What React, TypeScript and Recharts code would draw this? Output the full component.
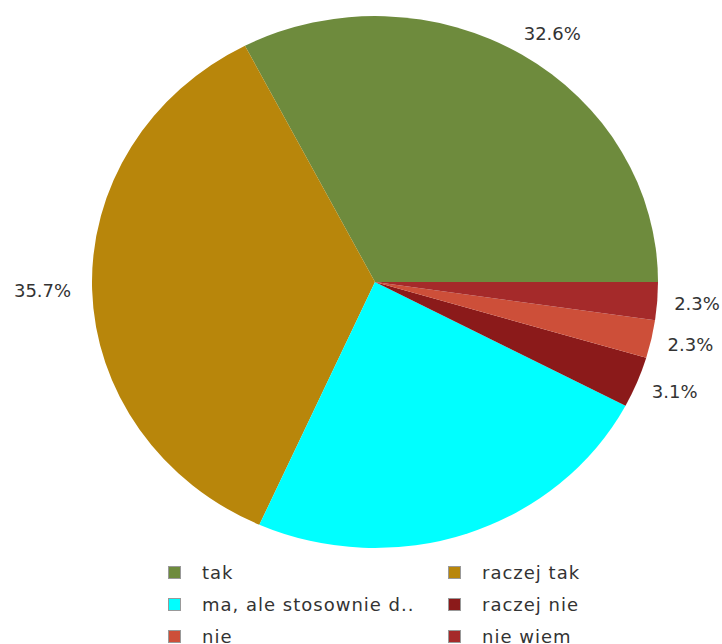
import { PieChart, Pie, Cell, Legend } from 'recharts';

const categories = ['tak', 'raczej tak', 'ma, ale stosownie d..', 'raczej nie', 'nie', 'nie wiem'];
const shares = [32.6, 35.7, 24.0, 3.1, 2.3, 2.3];
const colors = ['#6E8B3D', '#B8860B', '#00FFFF', '#8B1A1A', '#CD4F39', '#A52A2A'];
// the reference prints no percentage on the cyan slice
const showLabel = [true, true, false, true, true, true];

const CX = 375;
const CY = 282;
const RX = 283;
const RY = 266;

const data = categories.map((name, i) => ({ name, value: shares[i] }));

function renderLabel(props: any) {
  const { midAngle, percent, index } = props;
  if (!showLabel[index]) return null;
  const rad = (midAngle * Math.PI) / 180;
  const cos = Math.cos(rad);
  const sin = Math.sin(rad);
  const k = 1.06;
  const px = CX + RX * k * cos;
  const py = CY - RY * k * sin;
  const y = py - sin * 9;
  const x = cos >= 0 ? px - (1 - Math.abs(cos)) * 15 : px - 4;
  return (
    <text
      x={x}
      y={y}
      textAnchor={cos >= 0 ? 'start' : 'end'}
      dominantBaseline="central"
      fill="#333"
      fontSize={18}
      fontFamily="DejaVu Sans"
    >
      {(percent * 100).toFixed(1)}%
    </text>
  );
}

function LegendGrid() {
  const items = categories.map((name, i) => ({ name, color: colors[i] }));
  return (
    <div
      style={{
        display: 'grid',
        gridTemplateColumns: '280px 200px',
        gridAutoRows: '32px',
        paddingLeft: 168,
        fontFamily: 'DejaVu Sans',
        fontSize: 18,
        letterSpacing: 1,
        color: '#333',
      }}
    >
      {items.map((it) => (
        <div key={it.name} style={{ display: 'flex', alignItems: 'center' }}>
          <span
            style={{
              width: 11,
              height: 11,
              background: it.color,
              border: '1px solid #999',
              marginRight: 21,
              flex: 'none',
            }}
          />
          <span style={{ whiteSpace: 'nowrap' }}>{it.name}</span>
        </div>
      ))}
    </div>
  );
}

export default function App() {
  return (
    <div style={{ width: 722, height: 644, background: '#fff', overflow: 'hidden' }}>
      <style>{`body{margin:0} path.recharts-sector{transform-origin:${CX}px ${CY}px; transform:scaleY(${RY / RX});}`}</style>
      <PieChart width={722} height={644} margin={{ top: 0, right: 0, bottom: 0, left: 0 }}>
        <Pie
          data={data}
          dataKey="value"
          nameKey="name"
          cx={CX}
          cy={CY}
          outerRadius={RX}
          startAngle={0}
          endAngle={360}
          stroke="none"
          label={renderLabel}
          labelLine={false}
          isAnimationActive={false}
        >
          {data.map((d, i) => (
            <Cell key={d.name} fill={colors[i]} />
          ))}
        </Pie>
        <Legend
          content={<LegendGrid />}
          wrapperStyle={{ position: 'absolute', top: 556, left: 0, width: 722 }}
        />
      </PieChart>
    </div>
  );
}
